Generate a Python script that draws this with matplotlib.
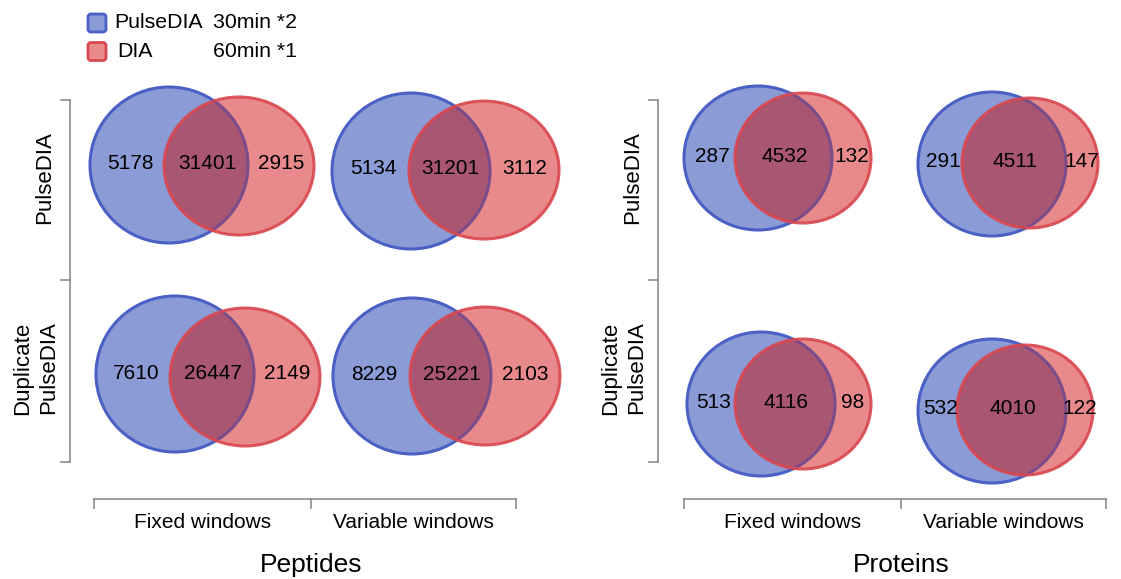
import matplotlib.pyplot as plt
from matplotlib.patches import Ellipse, FancyBboxPatch

plt.rcParams['font.family'] = ['Liberation Sans', 'DejaVu Sans']

# counts: rows = PulseDIA / Duplicate PulseDIA, cols = Fixed / Variable windows
groups = ["Peptides", "Proteins"]
row_labels = ["PulseDIA", "Duplicate\nPulseDIA"]
col_labels = ["Fixed windows", "Variable windows"]
legend_names = ["PulseDIA", "DIA"]
legend_times = ["30min *2", "60min *1"]

pep_pulse_only = [[5178, 5134], [7610, 8229]]
pep_shared = [[31401, 31201], [26447, 25221]]
pep_dia_only = [[2915, 3112], [2149, 2103]]

prot_pulse_only = [[287, 291], [513, 532]]
prot_shared = [[4532, 4511], [4116, 4010]]
prot_dia_only = [[132, 147], [98, 122]]

BLUE_FACE = "#8a9bd6"
BLUE_EDGE = "#4b60c4"
RED_FACE = "#e88a8c"
RED_EDGE = "#d9474f"
BOTH_FACE = "#a85672"
BOTH_EDGE = "#7a4c8a"
GREY = "#8c8c8c"

# layout (pixel space): blue centres per panel, red offset, ellipse radii
layout = {
    "Peptides": dict(
        blue=[[(169, 165), (411, 171)], [(175, 374), (412, 376)]],
        red_dx=[[70, 73], [70, 73]], red_dy=[[1, -1], [3, 0]],
        blue_r=(79, 78), red_r=(75, 69),
        vbar_x=70, hbar=(94, 516), hbar_mid=311,
    ),
    "Proteins": dict(
        blue=[[(758, 158), (992, 164)], [(761, 404), (992, 411)]],
        red_dx=[[45, 38], [42, 33]], red_dy=[[0, -1], [0, -1]],
        blue_r=(74, 72), red_r=(68, 65),
        vbar_x=658, hbar=(684, 1106), hbar_mid=901,
    ),
}
counts = {
    "Peptides": (pep_pulse_only, pep_shared, pep_dia_only),
    "Proteins": (prot_pulse_only, prot_shared, prot_dia_only),
}

W, H = 1121, 579
fig = plt.figure(figsize=(W / 100, H / 100), dpi=100)
ax = fig.add_axes([0, 0, 1, 1])
ax.set_xlim(0, W)
ax.set_ylim(H, 0)
ax.axis("off")

for g in groups:
    lay = layout[g]
    a_only, both, b_only = counts[g]
    brx, bry = lay["blue_r"]
    rrx, rry = lay["red_r"]
    for i in range(2):
        for j in range(2):
            bx, by = lay["blue"][i][j]
            rx, ry = bx + lay["red_dx"][i][j], by + lay["red_dy"][i][j]
            blue = Ellipse((bx, by), 2 * brx, 2 * bry, facecolor=BLUE_FACE,
                           edgecolor=BLUE_EDGE, lw=2.2)
            ax.add_patch(blue)
            red = Ellipse((rx, ry), 2 * rrx, 2 * rry, facecolor=RED_FACE, edgecolor="none")
            ax.add_patch(red)
            # overlap fill and blue rim seen through the red set
            mid = Ellipse((rx, ry), 2 * rrx, 2 * rry, facecolor=BOTH_FACE, edgecolor="none")
            ax.add_patch(mid)
            mid.set_clip_path(blue)
            rim = Ellipse((bx, by), 2 * brx, 2 * bry, facecolor="none",
                          edgecolor=BOTH_EDGE, lw=2.2)
            ax.add_patch(rim)
            rim.set_clip_path(red)
            ax.add_patch(Ellipse((rx, ry), 2 * rrx, 2 * rry, facecolor="none",
                                 edgecolor=RED_EDGE, lw=2.2, alpha=0.9))
            # label positions from the geometry of the two shapes
            bl, br_ = bx - brx, bx + brx
            rl, rr = rx - rrx, rx + rrx
            ty = (by + ry) / 2 - 2
            ax.text((bl + rl) / 2 + 3, ty, f"{a_only[i][j]}", ha="center", va="center", fontsize=15)
            ax.text((rl + br_) / 2 + 1, ty, f"{both[i][j]}", ha="center", va="center", fontsize=15)
            ax.text((br_ + rr) / 2, ty, f"{b_only[i][j]}", ha="center", va="center", fontsize=15)

    # left bracket
    vx = lay["vbar_x"]
    ax.plot([vx, vx], [100, 462], color=GREY, lw=1.2)
    for yy in (100, 280, 462):
        ax.plot([vx - 9, vx], [yy, yy], color=GREY, lw=1.2)
    ax.text(vx - 25, 178, row_labels[0], rotation=90, ha="center", va="center", fontsize=16)
    ax.text(vx - 34, 368, row_labels[1], rotation=90, ha="center", va="center",
            fontsize=16, linespacing=1.3)

    # bottom bracket
    x0, x1 = lay["hbar"]
    xm = lay["hbar_mid"]
    ax.plot([x0, x1], [499, 499], color=GREY, lw=1.2)
    for xx in (x0, xm, x1):
        ax.plot([xx, xx], [499, 508], color=GREY, lw=1.2)
    ax.text((x0 + xm) / 2, 523, col_labels[0], ha="center", va="center", fontsize=15)
    ax.text((xm + x1) / 2, 523, col_labels[1], ha="center", va="center", fontsize=15)
    ax.text(xm, 565, g, ha="center", va="center", fontsize=19)

# legend
for k, (face, edge) in enumerate([(BLUE_FACE, BLUE_EDGE), (RED_FACE, RED_EDGE)]):
    y0 = 13 + k * 28.5
    ax.add_patch(FancyBboxPatch((88, y0 + 1), 18, 18, boxstyle="round,pad=0,rounding_size=3",
                                facecolor=face, edgecolor=edge, lw=2))
    ax.text(114 + 3 * k, y0 + 10, legend_names[k], ha="left", va="center", fontsize=15.3)
    ax.text(213, y0 + 10, legend_times[k], ha="left", va="center", fontsize=15.3)

fig.savefig("out.png", dpi=100)
